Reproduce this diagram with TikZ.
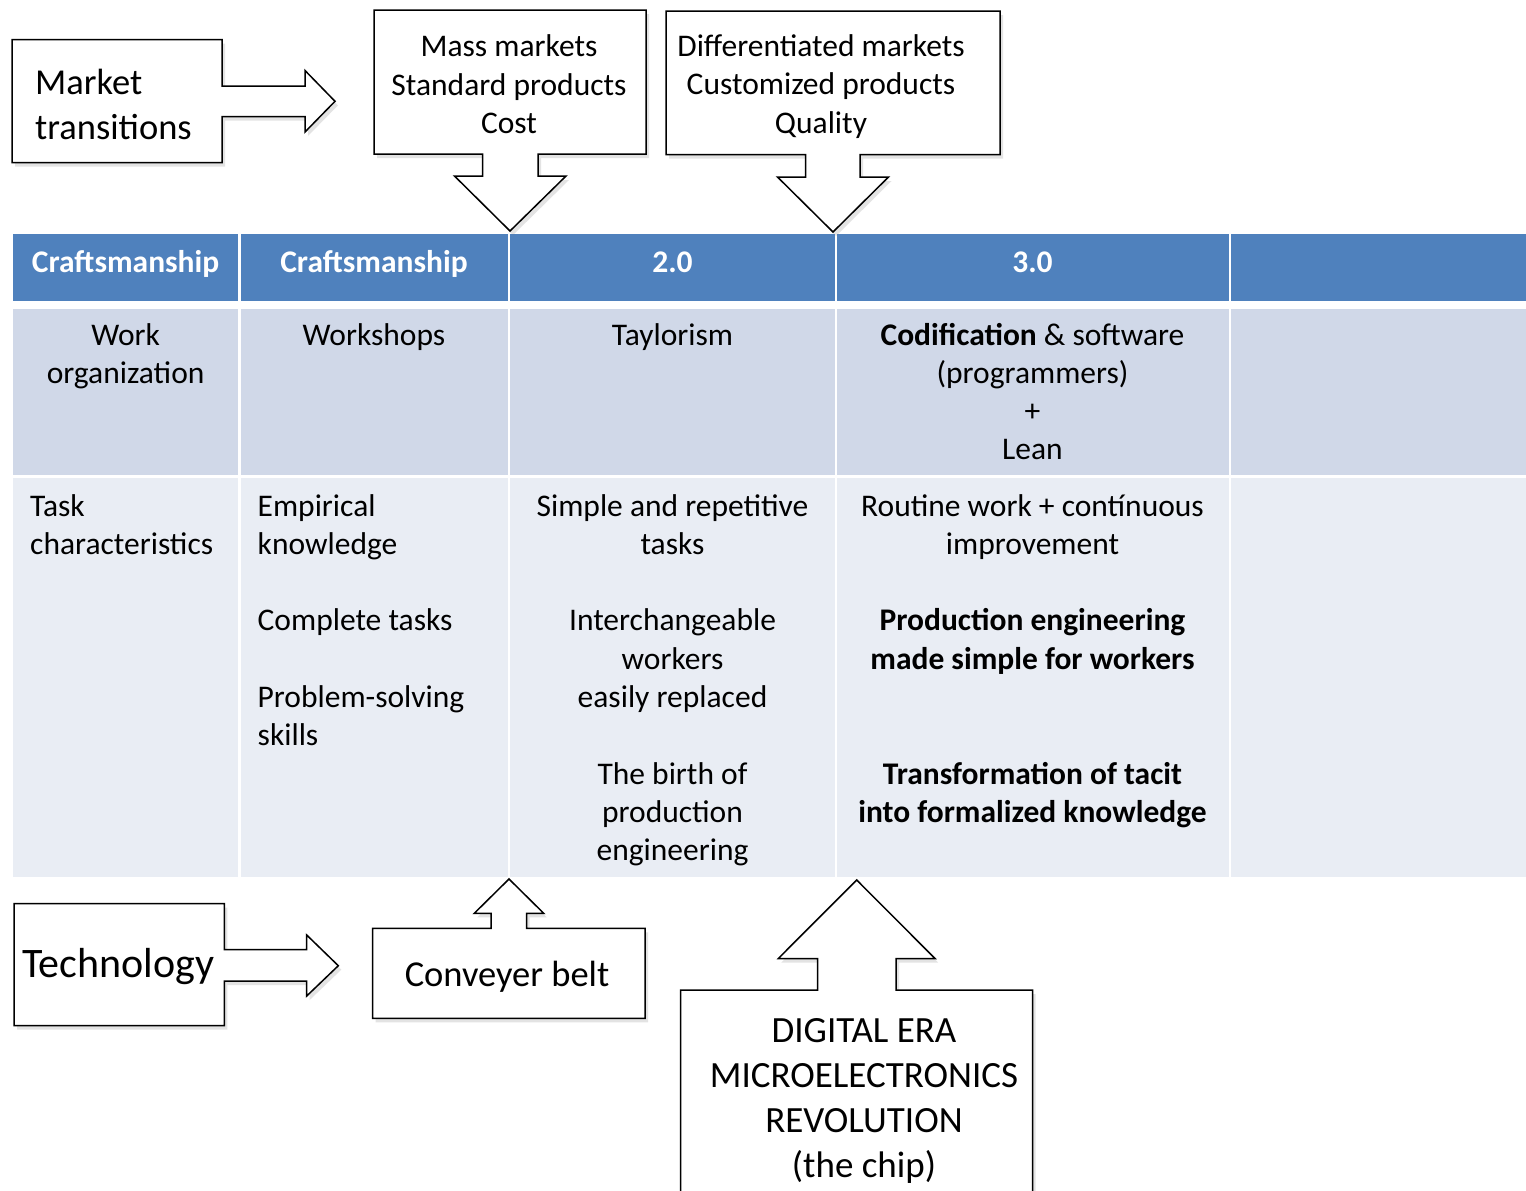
\documentclass[tikz,border=0pt]{standalone}
\usepackage{fontspec}
\setmainfont{Carlito}
\usetikzlibrary{shadows}
\definecolor{hdr}{HTML}{4F81BD}
\definecolor{rowa}{HTML}{D0D8E8}
\definecolor{rowb}{HTML}{E9EDF4}
\begin{document}
\begin{tikzpicture}[x=1pt,y=-1pt,
  callout/.style={draw=black, line width=1.5pt, fill=white, line join=miter,
    drop shadow={opacity=0.22, shadow xshift=3pt, shadow yshift=-4pt}},
  hdrcell/.style={fill=hdr},
  cella/.style={fill=rowa},
  cellb/.style={fill=rowb},
  hdrtxt/.style={font=\fontsize{31.5}{38.3}\selectfont\bfseries, text=white, inner sep=0pt, anchor=base},
  body/.style={font=\fontsize{31.5}{38.3}\selectfont, inner sep=0pt},
  big/.style={font=\fontsize{36.5}{45}\selectfont, inner sep=0pt},
  mid/.style={font=\fontsize{31.5}{38.5}\selectfont, inner sep=0pt, align=center, anchor=north},
]
\clip (0,0) rectangle (1526,1191);
\useasboundingbox (0,0) rectangle (1526,1191);
\fill[white] (0,0) rectangle (1526,1191);

% ---------- table ----------
\foreach \xa/\xb in {13/238.3, 240.7/508, 510/835, 837/1228.5, 1230.5/1530}{
  \path[hdrcell] (\xa,234) rectangle (\xb,300.7);
  \path[cella] (\xa,309) rectangle (\xb,475);
  \path[cellb] (\xa,477.5) rectangle (\xb,876.7);
}

\node[hdrtxt] (h1) at (125.6,272) {Craftsmanship};
\node[hdrtxt] (h2) at (374,272) {Craftsmanship};
\node[hdrtxt] (h3) at (672.5,272) {2.0};
\node[hdrtxt] (h4) at (1032.5,272) {3.0};

\node[body, align=center, anchor=north] (r1c1) at (125.6,318) {\strut Work\\organization};
\node[body, align=center, anchor=north] (r1c2) at (374,318) {\strut Workshops};
\node[body, align=center, anchor=north] (r1c3) at (672.5,318) {\strut Taylorism};
\node[body, align=center, anchor=north] (r1c4) at (1032.5,318)
  {\strut\textbf{Codification} \& software\\(programmers)\\+\\Lean};

\node[body, align=left, anchor=north west] (r2c1) at (30,489) {\strut Task\\characteristics};
\node[body, align=left, anchor=north west] (r2c2) at (257.5,489)
  {\strut Empirical\\knowledge\\[38.3pt]Complete tasks\\[38.3pt]Problem-solving\\skills};
\node[body, align=center, anchor=north] (r2c3) at (672.5,489)
  {\strut Simple and repetitive\\tasks\\[38.3pt]Interchangeable\\workers\\easily replaced\\[38.3pt]The birth of\\production\\engineering};
\node[body, align=center, anchor=north] (r2c4) at (1032.5,489)
  {\strut Routine work + contínuous\\improvement\\[38.3pt]\textbf{Production engineering}\\\textbf{made simple for workers}\\[76.6pt]\textbf{Transformation of tacit}\\\textbf{into formalized knowledge}};

% ---------- callouts ----------
% Market transitions (right arrow)
\path[callout] (12,39.5) -- (222,39.5) -- (222,86) -- (305,86) -- (305,70.5) -- (335,101.3)
  -- (305,132) -- (305,116.7) -- (222,116.7) -- (222,162.5) -- (12,162.5) -- cycle;
\node[big, align=left, anchor=north west] (mt) at (35,62.5) {\strut Market\\transitions};

% Mass markets (down arrow)
\path[callout] (374,10) -- (646,10) -- (646,154) -- (538,154) -- (538,176) -- (566,176)
  -- (510,231) -- (454.5,176) -- (482.5,176) -- (482.5,154) -- (374,154) -- cycle;
\node[mid] (mass) at (509,29.5) {\strut Mass markets\\Standard products\\Cost};

% Differentiated markets (down arrow)
\path[callout] (666,11) -- (1000,11) -- (1000,154.7) -- (860,154.7) -- (860,177) -- (888.5,177)
  -- (833,232) -- (777.5,177) -- (805.7,177) -- (805.7,154.7) -- (666,154.7) -- cycle;
\node[mid] (diff) at (821,29) {\strut Differentiated markets\\Customized products\\Quality};

% Technology (right arrow)
\path[callout] (14,903.5) -- (224.3,903.5) -- (224.3,949.5) -- (306.7,949.5) -- (306.7,935)
  -- (338.3,965.7) -- (306.7,996) -- (306.7,981) -- (224.3,981) -- (224.3,1025.7) -- (14,1025.7) -- cycle;
\node[font=\fontsize{42}{50}\selectfont, inner sep=0pt, anchor=base west] (tech) at (22,977.3) {Technology};

% Conveyer belt (up arrow)
\path[callout] (372.7,1018.3) -- (372.7,928.3) -- (491,928.3) -- (491,913.3) -- (474.3,913.3)
  -- (509,879) -- (543.7,913.3) -- (526.5,913.3) -- (526.5,928.3) -- (645,928.3) -- (645,1018.3) -- cycle;
\node[big, anchor=base] (belt) at (507,986.7) {Conveyer belt};

% Digital era (up arrow)
\path[callout] (680.7,1210) -- (680.7,990) -- (817.7,990) -- (817.7,958.5) -- (778.3,958.5)
  -- (856.7,880) -- (935,958.5) -- (896,958.5) -- (896,990) -- (1032.7,990) -- (1032.7,1210) -- cycle;
\node[font=\fontsize{37}{45}\selectfont, inner sep=0pt, align=center, anchor=north] (digital) at (864,1011)
  {\strut DIGITAL ERA\\MICROELECTRONICS\\REVOLUTION\\(the chip)};
\end{tikzpicture}
\end{document}
